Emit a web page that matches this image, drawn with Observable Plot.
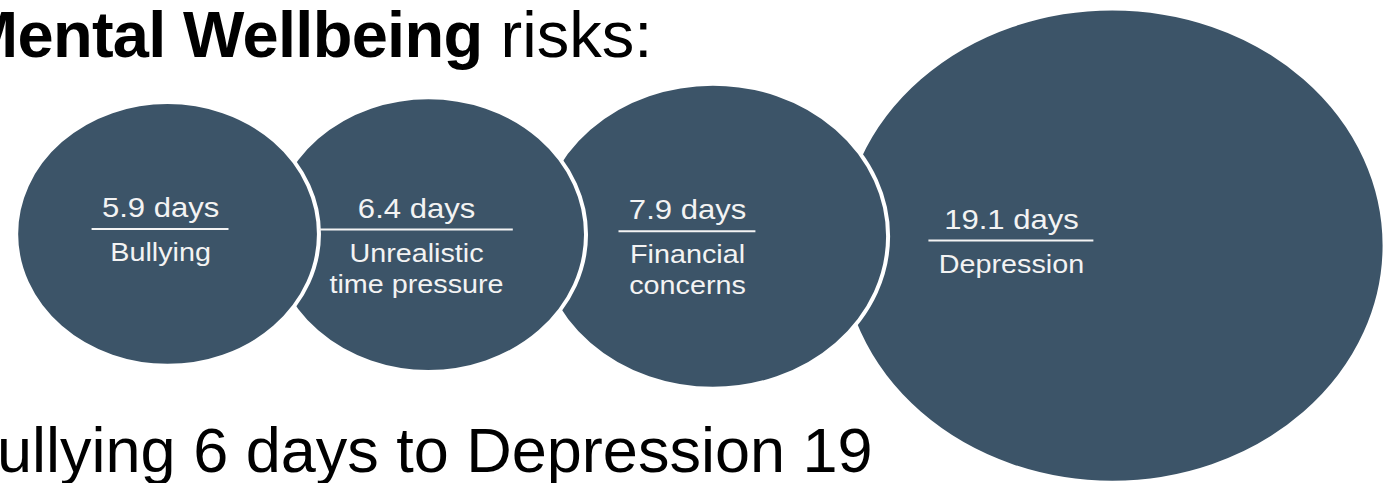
<!DOCTYPE html>
<html>
<head>
<meta charset="utf-8">
<script src="https://cdn.jsdelivr.net/npm/d3@7"></script>
<script src="https://cdn.jsdelivr.net/npm/@observablehq/plot@0.6"></script>
<style>
  html, body { margin: 0; padding: 0; background: #fff; width: 1386px; height: 483px; overflow: hidden; position: relative;
    font-family: "Liberation Sans", Arial, sans-serif; }
  #chart { position: absolute; left: 0; top: 0; transform: scaleX(1.15); transform-origin: 0 0; }
  #chart svg { display: block; }
  .title { position: absolute; left: -36px; top: 2px; margin: 0; font-size: 65px; line-height: 65px; font-weight: normal;
    white-space: nowrap; color: #000; font-family: "Liberation Sans", Arial, sans-serif; }
  .title b { font-weight: bold; letter-spacing: -0.7px; }
  .subtitle { position: absolute; left: -45px; top: 419px; margin: 0; font-size: 63px; line-height: 63px;
    white-space: nowrap; color: #000; font-family: "Liberation Sans", Arial, sans-serif; }
</style>
</head>
<body>
<div id="chart"></div>
<h1 class="title"><b>Mental Wellbeing</b> risks:</h1>
<p class="subtitle">Bullying 6 days to Depression 19</p>
<script>
// ---- data ----
const categories = ["Bullying", "Unrealistic\ntime pressure", "Financial\nconcerns", "Depression"];
const days = [5.9, 6.4, 7.9, 19.1];
const valueLabels = ["5.9 days", "6.4 days", "7.9 days", "19.1 days"];

// ---- layout (circle area proportional to days, circles overlapping by a constant amount) ----
const W = 1205, H = 483;          // svg is stretched horizontally by 1.15 to 1386px
const K = 54.2;                   // pixels of radius per sqrt(day)
const lead = 0.25, overlap = 0.775;
const s = days.map(Math.sqrt);
const cx = [];
s.forEach((v, i) => cx.push(i === 0 ? lead + v : cx[i - 1] + s[i - 1] + v - overlap));
const cy = s.map(v => 4.04 + 0.11 * v);

const ctx = document.createElement("canvas").getContext("2d");
function textWidth(str, size) {
  ctx.font = `${size}px "Liberation Sans", Arial, sans-serif`;
  return ctx.measureText(str).width;
}

const valueSize = 27, catSize = 25;
const data = categories.map((c, i) => {
  const left = cx[i] - s[i];
  const tx = left + (96 + 0.225 * K * s[i]) / K;
  const w = Math.max(textWidth(valueLabels[i], valueSize), ...c.split("\n").map(l => textWidth(l, catSize)));
  const half = (w + 17) / 2 / K;
  return {
    category: c, days: days[i], value: valueLabels[i],
    cx: cx[i], cy: cy[i], tx,
    vy: cy[i] - 17 / K, uy: cy[i] - 5 / K, ly: cy[i] + 5 / K,
    x1: tx - half, x2: tx + half
  };
});

const fill = "#3c5468", ink = "#f3f3f3";
const plot = Plot.plot({
  width: W, height: H, margin: 0,
  x: {domain: [0, W / K], range: [0, W], axis: null},
  y: {domain: [0, H / K], range: [0, H], axis: null},
  r: {type: "sqrt", domain: [0, 1], range: [0, K]},
  style: {background: "white", fontFamily: "'Liberation Sans', Arial, sans-serif", overflow: "visible"},
  marks: [
    Plot.dot(data, {x: "cx", y: "cy", r: "days", fill, stroke: "white", strokeWidth: 3.5}),
    Plot.ruleY(data, {y: "uy", x1: "x1", x2: "x2", stroke: ink, strokeWidth: 2}),
    Plot.text(data, {x: "tx", y: "vy", text: "value", fill: ink, fontSize: valueSize, lineAnchor: "bottom", textAnchor: "middle"}),
    Plot.text(data, {x: "tx", y: "ly", text: "category", fill: ink, fontSize: catSize, lineAnchor: "top", lineHeight: 1.24, textAnchor: "middle"})
  ]
});
document.getElementById("chart").appendChild(plot);
</script>
</body>
</html>
